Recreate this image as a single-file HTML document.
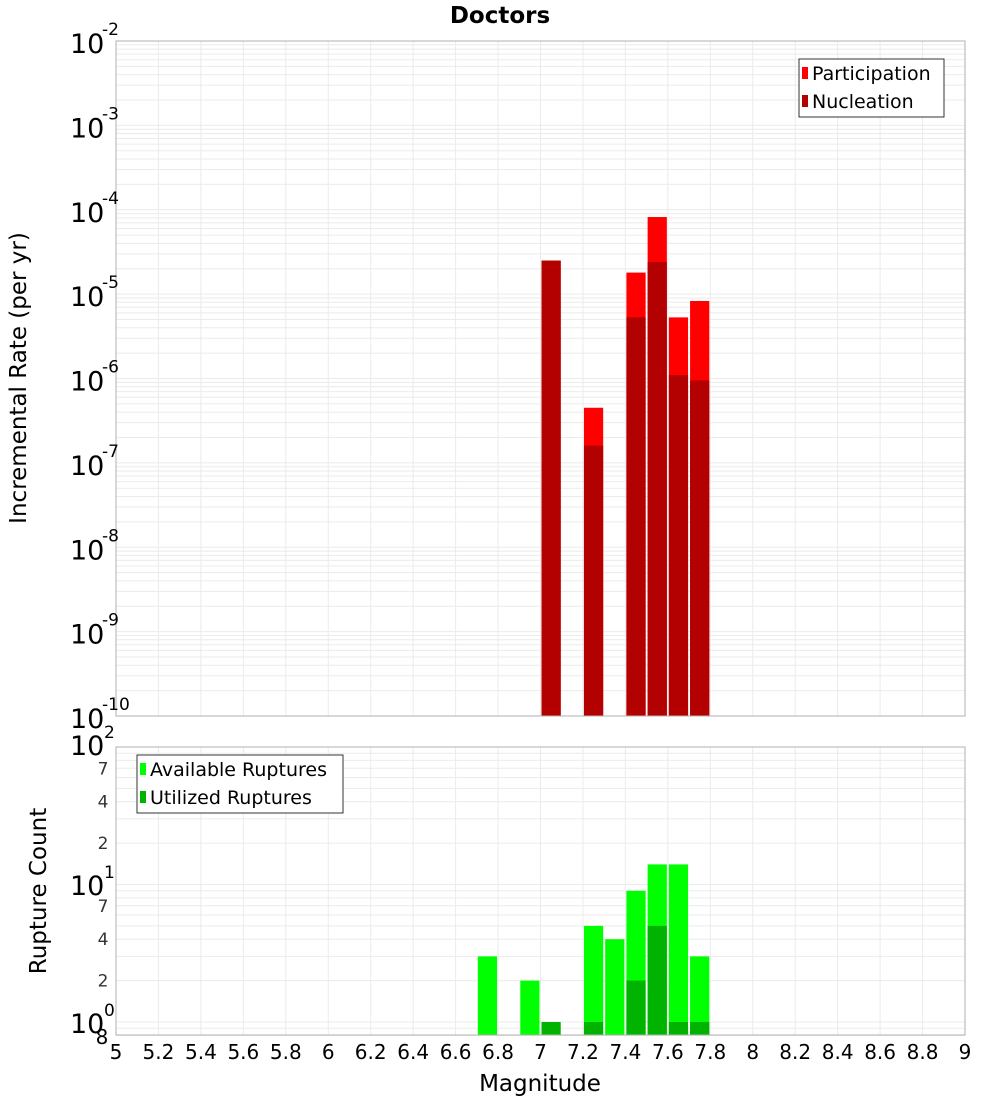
<!DOCTYPE html>
<html><head><meta charset="utf-8"><style>
body{margin:0;background:#fff;}
svg text{font-family:"DejaVu Sans","Liberation Sans",sans-serif;}
</style></head><body>
<svg id="c" width="1000" height="1100" xmlns="http://www.w3.org/2000/svg"></svg>
<script>
const binCenters=[7.05,7.25,7.45,7.55,7.65,7.75];
const participation=[2.5e-5,4.5e-7,1.8e-5,8.2e-5,5.3e-6,8.3e-6];
const nucleation=[2.5e-5,1.6e-7,5.3e-6,2.4e-5,1.1e-6,9.5e-7];
const countCenters=[6.75,6.95,7.05,7.25,7.35,7.45,7.55,7.65,7.75];
const available=[3,2,0,5,4,9,14,14,3];
const utilized=[0,0,1,1,0,2,5,1,1];
const xTicks=[5,5.2,5.4,5.6,5.8,6,6.2,6.4,6.6,6.8,7,7.2,7.4,7.6,7.8,8,8.2,8.4,8.6,8.8,9];
const xTickLabels=["5","5.2","5.4","5.6","5.8","6","6.2","6.4","6.6","6.8","7","7.2","7.4","7.6","7.8","8","8.2","8.4","8.6","8.8","9"];
const topDecades=[-10,-9,-8,-7,-6,-5,-4,-3,-2];
const botMinorLabels=[2,4,7];

const S=document.getElementById('c');const NS='http://www.w3.org/2000/svg';
function el(t,a,txt){const e=document.createElementNS(NS,t);for(const k in a)e.setAttribute(k,a[k]);if(txt!==undefined)e.textContent=txt;S.appendChild(e);return e;}
const L=116,R=965,T1=41,B1=716,T2=747,B2=1035;
const X=v=>L+(v-5)/(9-5)*(R-L);
const Y1=v=>T1+(-2-Math.log10(v))/8*(B1-T1);
const Y2=v=>T2+(2-Math.log10(v))*137.5;
function grid(yf,lo,hi,top,bot){
  for(let d=lo;d<hi;d++)for(let m=1;m<10;m++){const y=yf(m*Math.pow(10,d));if(y<top-0.5||y>bot+0.5)continue;
    const g=el('line',{x1:L,x2:R,y1:y,y2:y,stroke:'#ebebeb','stroke-width':1});
    }
  xTicks.forEach(t=>{const g=el('line',{x1:X(t),x2:X(t),y1:top,y2:bot,stroke:'#ebebeb','stroke-width':1});
    });
}
grid(Y1,-10,-2,T1,B1);grid(Y2,-1,2,T2,B2);
binCenters.forEach((c,i)=>{
  const x0=X(c-0.05)+1,w=X(c+0.05)-X(c-0.05)-2;
  let r=el('rect',{x:x0,y:Y1(participation[i]),width:w,height:B1-Y1(participation[i]),fill:'#ff0000'});
  
  r=el('rect',{x:x0,y:Y1(nucleation[i]),width:w,height:B1-Y1(nucleation[i]),fill:'#b30000'});
  
});
countCenters.forEach((c,i)=>{
  const x0=X(c-0.05)+1,w=X(c+0.05)-X(c-0.05)-2;
  if(available[i]>0){const r=el('rect',{x:x0,y:Y2(available[i]),width:w,height:B2-Y2(available[i]),fill:'#00ff00'});
  }
  if(utilized[i]>0){const r=el('rect',{x:x0,y:Y2(utilized[i]),width:w,height:B2-Y2(utilized[i]),fill:'#00b300'});
  }
});
[[T1,B1],[T2,B2]].forEach(([t,b])=>{const f=el('rect',{x:L,y:t,width:R-L,height:b-t,fill:'none',stroke:'#b0b0b0'});
});
topDecades.forEach(d=>{const y=Y1(Math.pow(10,d));
  let t=el('text',{x:70,y:y+12,'font-size':27,fill:'#000'},'10');
  t=el('text',{x:102,y:y-6,'font-size':17,fill:'#000'},String(d));});
[[100,'2',755],[10,'1',895],[1,'0',1033]].forEach(([v,e,yb])=>{const y=Y2(v);
  let t=el('text',{x:70,y:yb,'font-size':27,fill:'#000'},'10');
  t=el('text',{x:104,y:yb-17,'font-size':17,fill:'#000'},e);});
[1,10].forEach(dec=>botMinorLabels.forEach(m=>{const t=el('text',{x:103,y:Y2(m*dec)+6,'font-size':17,fill:'#333','text-anchor':'middle'},String(m));
}));
let t8=el('text',{x:102,y:B2+9,'font-size':20,fill:'#000','text-anchor':'middle'},'8');
xTicks.forEach((v,i)=>{const t=el('text',{x:X(v),y:1059,'font-size':20,fill:'#000','text-anchor':'middle'},xTickLabels[i]);
});
let tt=el('text',{x:540,y:1091,'font-size':23,fill:'#000','text-anchor':'middle'},'Magnitude');
tt=el('text',{x:500,y:23,'font-size':23,'font-weight':'bold',fill:'#000','text-anchor':'middle'},'Doctors');
tt=el('text',{x:0,y:0,'font-size':23,fill:'#000','text-anchor':'middle',transform:'translate(26,378) rotate(-90)'},'Incremental Rate (per yr)');
tt=el('text',{x:0,y:0,'font-size':23,fill:'#000','text-anchor':'middle',transform:'translate(46,891) rotate(-90)'},'Rupture Count');
function legend(x,y,w,items,name){const b=el('rect',{x:x,y:y,width:w,height:58,fill:'#fff',stroke:'#333'});

items.forEach(([lab,col],i)=>{const yy=y+14+i*28;
 const s=el('rect',{x:x+3,y:yy-6,width:6,height:12,fill:col});
 const t=el('text',{x:x+13,y:yy+7,'font-size':19,fill:'#000'},lab);});}
legend(799,59,145,[['Participation','#ff0000'],['Nucleation','#b30000']],'top-legend');
legend(137,755,206,[['Available Ruptures','#00ff00'],['Utilized Ruptures','#00b300']],'bottom-legend');
</script>
</body></html>
